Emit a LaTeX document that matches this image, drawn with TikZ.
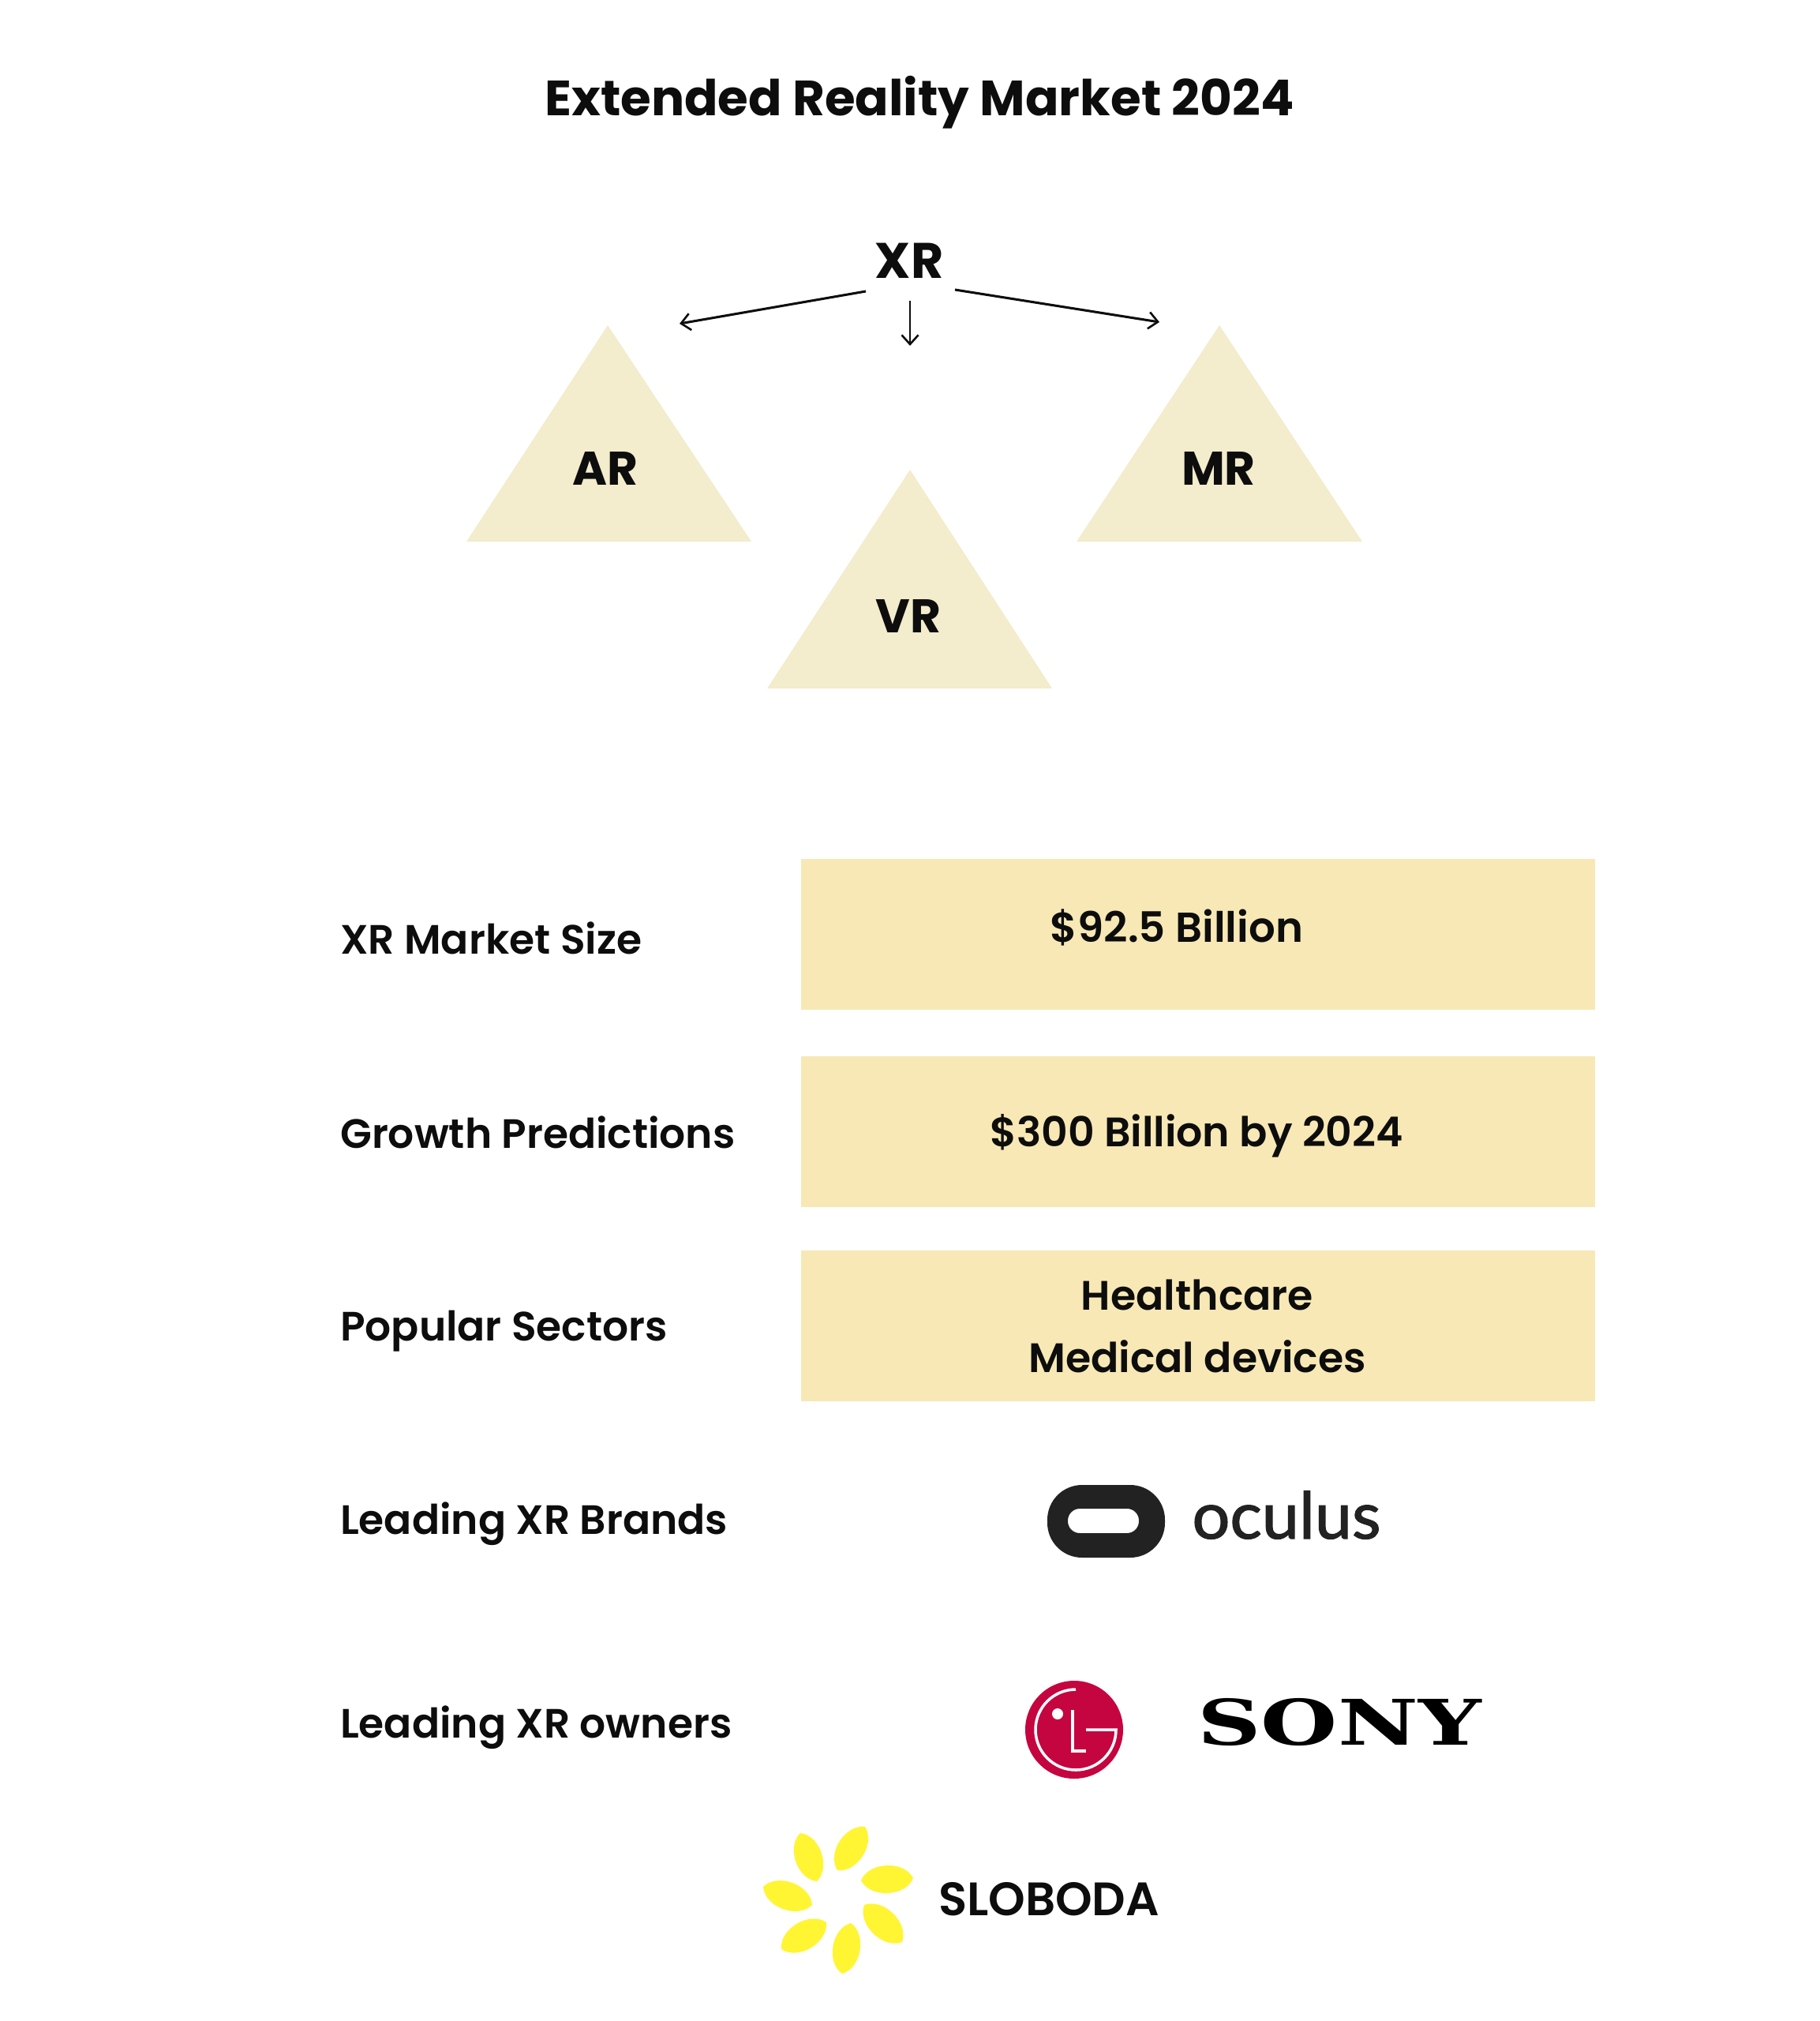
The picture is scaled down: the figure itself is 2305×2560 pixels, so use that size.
\documentclass[tikz,border=0pt]{standalone}
\usepackage{fontspec}
\setmainfont{Poppins}
\newfontfamily\SemiFont{Poppins SemiBold}
\newfontfamily\OculusFont[FakeBold=1.6]{Lato}
\newfontfamily\SonyFont{DejaVu Serif}
\definecolor{TriangleFill}{HTML}{F3ECCD}
\definecolor{BoxFill}{HTML}{F7E8B5}
\definecolor{InkBlack}{HTML}{0D0D0D}
\definecolor{OculusInk}{HTML}{222222}
\definecolor{LogoRed}{HTML}{C5053F}
\definecolor{PetalYellow}{HTML}{FFF533}
\usetikzlibrary{arrows.meta}
\tikzset{
    branch/.style={draw=InkBlack, line width=2.6pt, -{Straight Barb[length=10pt,width=18pt,line width=2.2pt]}},
    triangle label/.style={text=InkBlack, font=\bfseries\fontsize{51}{60}\selectfont},
    row label/.style={anchor=west, text=InkBlack, font=\SemiFont\fontsize{44.3}{50}\selectfont},
    value box/.style={fill=BoxFill, minimum width=1006*0.8536pt, minimum height=191*0.8536pt, inner sep=0pt, outer sep=0pt},
    value text/.style={text=InkBlack, align=center, font=\SemiFont\fontsize{44.5}{67}\selectfont},
    lg line/.style={draw=white, line width=3pt}
}

\begin{document}
\begin{tikzpicture}[x=0.03cm, y=-0.03cm]

    \useasboundingbox (0,0) rectangle (2305,2560);

    \node [text=InkBlack, font=\bfseries\fontsize{53.5}{60}\selectfont] (title) at (1165,130) {Extended Reality Market 2024};

    % Triangles
    \fill [TriangleFill] (770,412) -- (591,686) -- (952,686) -- cycle;
    \fill [TriangleFill] (1545,412) -- (1364,686) -- (1726,686) -- cycle;
    \fill [TriangleFill] (1153,595) -- (972,872) -- (1333,872) -- cycle;

    \node [triangle label, font=\bfseries\fontsize{54}{60}\selectfont] (xr) at (1152,330) {XR};
    \node [triangle label] (ar) at (767,594) {AR};
    \node [triangle label] (mr) at (1544,594) {MR};
    \node [triangle label] (vr) at (1151,781) {VR};

    % Arrows below XR
    \coordinate (leftstart) at (1097,369);
    \coordinate (leftend) at (861,410);
    \coordinate (midstart) at (1153,381);
    \coordinate (midend) at (1153,438);
    \coordinate (rightstart) at (1210,367);
    \coordinate (rightend) at (1469,408);
    \draw [branch] (leftstart) -- (leftend);
    \draw [branch, line width=2.2pt] (midstart) -- (midend);
    \draw [branch] (rightstart) -- (rightend);

    % Table rows
    \node [row label] (sizelabel) at (427,1188) {XR Market Size};
    \node [row label] (growthlabel) at (427,1434) {Growth Predictions};
    \node [row label] (sectorlabel) at (427,1686) {Popular Sectors};
    \node [row label] (brandlabel) at (427,1930) {Leading XR Brands};
    \node [row label] (ownerlabel) at (427,2188) {Leading XR owners};

    \node [value box] (sizebox) at (1518,1183) {};
    \node [value box] (growthbox) at (1518,1433) {};
    \node [value box] (sectorbox) at (1518,1679) {};
    \node [value text, font=\SemiFont\fontsize{45.2}{67}\selectfont] (sizetext) at (1491,1175) {\$92.5 Billion};
    \node [value text] (growthtext) at (1516,1439) {\$300 Billion by 2024};
    \node [value text] (sectortext) at (1517,1680) {Healthcare\\Medical devices};

    % Oculus logo
    \fill [OculusInk, even odd rule, rounded corners=44*0.8536pt] (1327,1881) rectangle (1476,1973)
        [rounded corners=15*0.8536pt] (1353,1911) rectangle (1443,1942);
    \node [text=OculusInk, font=\OculusFont\fontsize{70}{72}\selectfont, xscale=1.03] (oculus) at (1630,1919) {oculus};

    % LG logo
    \fill [LogoRed] (1361,2191) ellipse [x radius=62, y radius=62];
    \draw [lg line] (1363,2140) arc [start angle=270, end angle=0, radius=51] -- (1376,2191);
    \draw [lg line] (1359,2166) -- (1359,2218) -- (1376,2218);
    \fill [white] (1340,2171) circle (7);

    % Sony logo
    \node [font=\SonyFont\bfseries\fontsize{68}{72}\selectfont, text=black, xscale=1.4] (sony) at (1697,2181) {SONY};

    % Flower
    \foreach \tipx/\tipy/\basex/\basey in {1096/2314/1061/2369, 1157/2379/1091/2382, 1143/2460/1095/2413,
        1067/2500/1078/2436, 990/2469/1047/2435, 967/2390/1029/2413, 1014/2322/1035/2383} {
        \fill [PetalYellow] (\basex,\basey) to [bend left=65] (\tipx,\tipy) to [bend left=65] (\basex,\basey) -- cycle;
    }
    \node [text=InkBlack, font=\SemiFont\fontsize{50.7}{60}\selectfont] (sloboda) at (1329,2406) {SLOBODA};

\end{tikzpicture}
\end{document}
